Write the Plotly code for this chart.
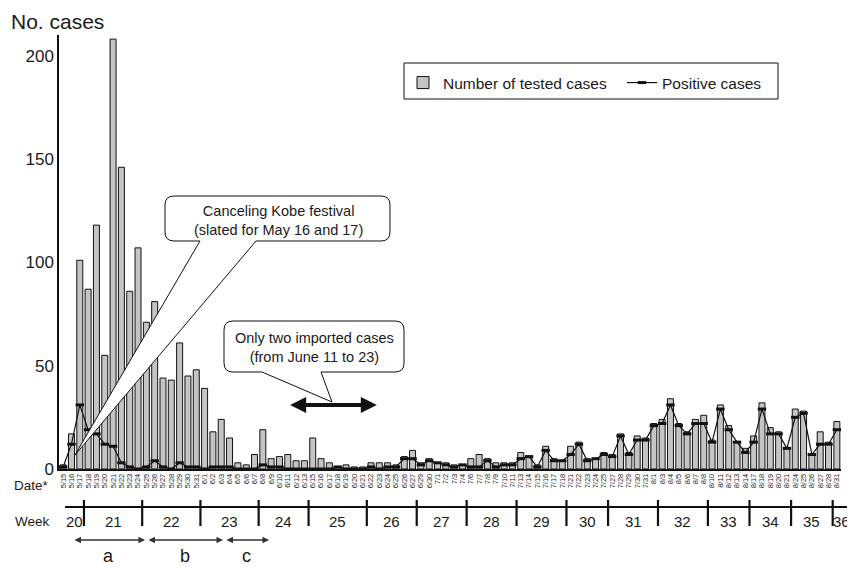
import datetime
import plotly.graph_objects as go

# ---------------- data ----------------
dates = ["5/15", "5/16", "5/17", "5/18", "5/19", "5/20", "5/21", "5/22", "5/23", "5/24",
         "5/25", "5/26", "5/27", "5/28", "5/29", "5/30", "5/31",
         "6/1", "6/2", "6/3", "6/4", "6/5", "6/6", "6/7", "6/8", "6/9", "6/10", "6/11",
         "6/12", "6/13", "6/15", "6/16", "6/17", "6/18", "6/19", "6/20", "6/21", "6/22",
         "6/23", "6/24", "6/25", "6/26", "6/27", "6/29", "6/30",
         "7/1", "7/2", "7/3", "7/4", "7/6", "7/7", "7/8", "7/9", "7/10", "7/11", "7/13",
         "7/14", "7/15", "7/16", "7/17", "7/18", "7/21", "7/22", "7/23", "7/24", "7/25",
         "7/27", "7/28", "7/29", "7/30", "7/31",
         "8/1", "8/3", "8/4", "8/5", "8/6", "8/7", "8/8", "8/10", "8/11", "8/12", "8/13",
         "8/14", "8/17", "8/18", "8/19", "8/20", "8/21", "8/24", "8/25", "8/26", "8/27",
         "8/28", "8/31"]

tested = [2, 17, 101, 87, 118, 55, 208, 146, 86, 107, 71, 81, 44, 43, 61, 45, 48,
          39, 18, 24, 15, 3, 2, 7, 19, 5, 6, 7, 4, 4, 15, 5, 3, 1, 2, 1, 1, 3, 3, 3, 2, 6, 9, 3, 5,
          3, 3, 2, 2, 5, 7, 5, 3, 3, 3, 8, 6, 2, 11, 5, 4, 11, 13, 5, 5, 8, 7, 17, 8, 16, 15,
          22, 24, 34, 22, 18, 24, 26, 14, 31, 21, 13, 10, 16, 32, 20, 18, 10, 29, 28, 7, 18, 13, 23]

positive = [1, 12, 31, 19, 17, 12, 11, 3, 1, 0, 1, 4, 1, 0, 3, 1, 1,
            0, 1, 1, 1, 0, 0, 0, 2, 1, 1, 0, 0, 0, 0, 0, 0, 1, 0, 0, 0, 1, 0, 1, 1, 5, 5, 2, 4,
            3, 2, 1, 2, 1, 1, 4, 1, 2, 2, 5, 6, 1, 9, 4, 4, 7, 12, 4, 5, 7, 6, 16, 7, 14, 14,
            21, 22, 31, 21, 17, 22, 22, 13, 29, 19, 13, 8, 13, 29, 17, 17, 10, 25, 27, 7, 12, 12, 19]

y_ticks = [0, 50, 100, 150, 200]
period_labels = ["a", "b", "c"]
YEAR = 2009

# ---------------- geometry (window pixel coordinates) ----------------
WIN_W, WIN_H = 855, 568
OFF = 8                      # page body margin
FIG_W, FIG_H = WIN_W - OFF, WIN_H - OFF
PL, PR, PT, PB = 59, 841, 35, 469      # plot area in window pixels
PW, PH = PR - PL, PB - PT
N = len(dates)


def px(X):
    return (X - PL) / PW


def py(Y):
    return (PB - Y) / PH


def ix(i):  # category index -> paper x
    return (i + 0.5) / N


def ipx(i):  # category index -> window pixel x
    return PL + (i + 0.5) * PW / N


weeks = [datetime.date(YEAR, int(d.split("/")[0]), int(d.split("/")[1])).isocalendar()[1]
         for d in dates]

fig = go.Figure()
fig.add_trace(go.Bar(
    x=dates, y=tested, name="Number of tested cases",
    marker=dict(color="#c4c4c4", line=dict(color="#111111", width=1)),
))
fig.add_trace(go.Scatter(
    x=dates, y=positive, name="Positive cases", mode="lines+markers",
    line=dict(color="#111111", width=1.2),
    marker=dict(symbol="line-ew", size=6, line=dict(color="#111111", width=3)),
    cliponaxis=False,
))

shapes = []
annotations = []


def text(X, Y, s, size, **kw):
    d = dict(xref="paper", yref="paper", x=px(X), y=py(Y), text=s, showarrow=False,
             xanchor="center", yanchor="middle", font=dict(size=size))
    d.update(kw)
    annotations.append(d)


# ----- legend frame -----
shapes.append(dict(type="rect", xref="paper", yref="paper",
                   x0=px(404), x1=px(778), y0=py(63), y1=py(99),
                   line=dict(color="#111111", width=1), fillcolor="rgba(0,0,0,0)"))


# ----- callouts -----
def callout(x0, y0, x1, y1, r, bx0, bx1, apx, apy):
    def P(X, Y):
        return f"{px(X):.5f},{py(Y):.5f}"
    path = (f"M{P(x0 + r, y0)} L{P(x1 - r, y0)} Q{P(x1, y0)} {P(x1, y0 + r)} "
            f"L{P(x1, y1 - r)} Q{P(x1, y1)} {P(x1 - r, y1)} L{P(bx1, y1)} L{P(apx, apy)} "
            f"L{P(bx0, y1)} L{P(x0 + r, y1)} Q{P(x0, y1)} {P(x0, y1 - r)} "
            f"L{P(x0, y0 + r)} Q{P(x0, y0)} {P(x0 + r, y0)} Z")
    return dict(type="path", xref="paper", yref="paper", path=path,
                fillcolor="white", line=dict(color="#111111", width=1), layer="above")


shapes.append(callout(165, 196, 390, 241, 9, 200, 256, 75, 455))
shapes.append(callout(224, 321, 404, 372, 9, 262, 321, 332, 402))

text(278, 220, "Canceling Kobe festival<br>(slated for May 16 and 17)", 14.5)
text(314, 348, "Only two imported cases<br>(from June 11 to 23)", 14.5)

# thick double arrow (June 11 to 23)
a0, a1 = 27.1, 37.7
annotations.append(dict(xref="paper", yref="paper", x=ix(a1), y=py(405),
                        axref="pixel", ayref="pixel", ax=-(a1 - a0) * PW / N, ay=0,
                        text="", showarrow=True, arrowside="end+start",
                        arrowhead=2, startarrowhead=2, arrowsize=0.8, startarrowsize=0.8,
                        arrowwidth=4, arrowcolor="#111111"))

# ----- axis labels -----
text(9, 21, "No. cases", 21, xanchor="left")
text(31, 485, "Date*", 13.5)
text(32, 521, "Week", 13.5)

# ----- week row -----
row_start, row_end = 65, 850
shapes.append(dict(type="line", xref="paper", yref="paper",
                   x0=px(row_start), x1=px(row_end), y0=py(507), y1=py(507),
                   line=dict(color="#111111", width=2)))
bounds = [i - 0.5 for i in range(1, N) if weeks[i] != weeks[i - 1]]
for b in bounds:
    shapes.append(dict(type="line", xref="paper", yref="paper",
                       x0=ix(b), x1=ix(b), y0=py(500), y1=py(526),
                       line=dict(color="#111111", width=2.2)))
edges_px = [row_start] + [ipx(b) for b in bounds] + [row_end]
uniq_weeks = []
for w in weeks:
    if w not in uniq_weeks:
        uniq_weeks.append(w)
for k, w in enumerate(uniq_weeks):
    text((edges_px[k] + edges_px[k + 1]) / 2, 521, str(w), 15)

# ----- periods a, b, c -----
spans = [(1.18, 9.84), (10.08, 19.21), (19.45, 24.74)]
for lab, (s0, s1) in zip(period_labels, spans):
    annotations.append(dict(xref="paper", yref="paper", x=ix(s1), y=py(540),
                            axref="pixel", ayref="pixel", ax=-(s1 - s0) * PW / N, ay=0,
                            text="", showarrow=True, arrowside="end+start",
                            arrowhead=2, startarrowhead=2, arrowsize=1, startarrowsize=1,
                            arrowwidth=1.3, arrowcolor="#333333"))
    text(ipx((s0 + s1) / 2), 556, lab, 18)

fig.update_layout(
    width=FIG_W, height=FIG_H,
    margin=dict(l=PL - OFF, r=WIN_W - PR, t=PT - OFF, b=WIN_H - PB, pad=0,
                autoexpand=False),
    paper_bgcolor="white", plot_bgcolor="white",
    font=dict(family="Liberation Sans, Arial, sans-serif", color="#1a1a1a"),
    bargap=0.28,
    showlegend=True,
    legend=dict(orientation="h", x=px(403), y=py(66), xanchor="left", yanchor="top",
                bgcolor="rgba(0,0,0,0)", borderwidth=0, font=dict(size=15.5),
                entrywidth=174, entrywidthmode="pixels", itemclick=False),
    xaxis=dict(type="category", range=[-0.5, N - 0.5], tickmode="array",
               tickvals=dates, ticktext=dates, tickangle=-90,
               tickfont=dict(size=7.5), ticks="", showline=True, linecolor="#111111",
               linewidth=1.5, showgrid=False, zeroline=False, fixedrange=True,
               automargin=False),
    yaxis=dict(range=[0, 210], tickvals=y_ticks, ticks="", showline=True,
               linecolor="#111111", linewidth=1.5, showgrid=False, zeroline=False,
               tickfont=dict(size=17), fixedrange=True, automargin=False),
    shapes=shapes,
    annotations=annotations,
)

fig.write_html("out.html")
